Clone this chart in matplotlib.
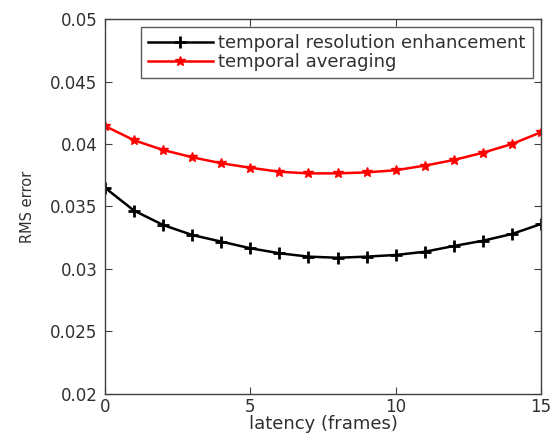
import numpy as np
import matplotlib
matplotlib.use("Agg")
import matplotlib.pyplot as plt

latency = np.arange(0, 16)
rms_enhance = [0.0365, 0.03467, 0.03352, 0.03272, 0.03219, 0.03166, 0.03126, 0.03099,
               0.0309, 0.03099, 0.03112, 0.03138, 0.03184, 0.03226, 0.0328, 0.0336]
rms_average = [0.04144, 0.0403, 0.03952, 0.03894, 0.03846, 0.0381, 0.03778, 0.03765,
               0.03765, 0.03773, 0.0379, 0.03827, 0.03872, 0.0393, 0.04, 0.04094]
labels = ["temporal resolution enhancement", "temporal averaging"]
yticks = [0.02, 0.025, 0.03, 0.035, 0.04, 0.045, 0.05]
ytick_labels = ["0.02", "0.025", "0.03", "0.035", "0.04", "0.045", "0.05"]

plt.rcParams["font.family"] = ["DejaVu Sans"]
text_col = "#303030"

fig = plt.figure(figsize=(5.59, 4.41), dpi=100)
ax = fig.add_axes([0.1878, 0.1066, 0.780, 0.8503])

ax.plot(latency, rms_enhance, color="black", marker="+", markersize=8,
        markeredgewidth=2, linewidth=1.8, label=labels[0])
ax.plot(latency, rms_average, color="red", marker="*", markersize=7,
        linewidth=1.8, label=labels[1])

ax.set_xlim(0, 15)
ax.set_ylim(0.02, 0.05)
ax.set_xticks([0, 5, 10, 15])
ax.set_yticks(yticks)
ax.set_yticklabels(ytick_labels)
ax.tick_params(direction="in", top=True, right=True, length=5, width=0.8,
               color="#404040", labelcolor=text_col)
ax.tick_params(axis="y", labelsize=12, pad=5.5)
ax.tick_params(axis="x", labelsize=12, pad=3)
for sp in ax.spines.values():
    sp.set_color("#404040")
    sp.set_linewidth(1.0)

ax.set_xlabel("latency (frames)", fontsize=13, labelpad=-1, color=text_col)
ax.set_ylabel("RMS error", fontsize=10.5, labelpad=11, color=text_col)

leg = ax.legend(loc="upper right", fontsize=13, frameon=True, fancybox=False,
                edgecolor="#303030", borderaxespad=0.45, handlelength=3.6,
                handletextpad=0.3, borderpad=0.4, labelspacing=0.05)
leg.get_frame().set_linewidth(1.0)
for t in leg.get_texts():
    t.set_color(text_col)

fig.savefig("out.png", dpi=100)
